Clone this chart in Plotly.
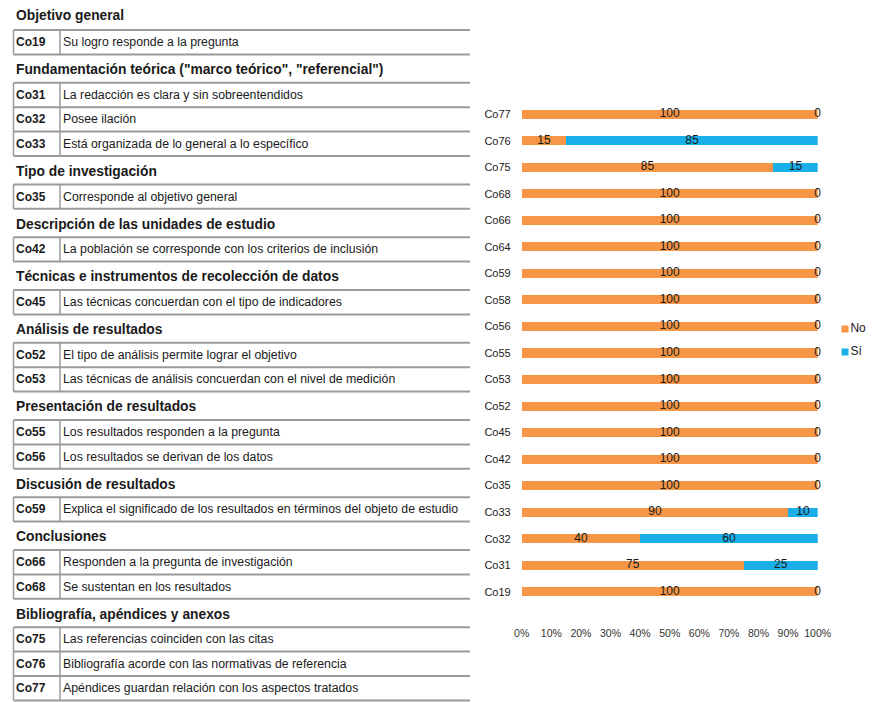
import plotly.graph_objects as go

# ---------------- data ----------------
categories = ["Co77", "Co76", "Co75", "Co68", "Co66", "Co64", "Co59", "Co58", "Co56",
              "Co55", "Co53", "Co52", "Co45", "Co42", "Co35", "Co33", "Co32", "Co31", "Co19"]
no_values = [100, 15, 85, 100, 100, 100, 100, 100, 100, 100, 100, 100, 100, 100, 100, 90, 40, 75, 100]
si_values = [0, 85, 15, 0, 0, 0, 0, 0, 0, 0, 0, 0, 0, 0, 0, 10, 60, 25, 0]
series_names = ["No", "Sí"]
x_tick_values = [0, 10, 20, 30, 40, 50, 60, 70, 80, 90, 100]
x_tick_labels = ["0%", "10%", "20%", "30%", "40%", "50%", "60%", "70%", "80%", "90%", "100%"]

section_titles = [
    "Objetivo general",
    'Fundamentación teórica ("marco teórico", "referencial")',
    "Tipo de investigación",
    "Descripción de las unidades de estudio",
    "Técnicas e instrumentos de recolección de datos",
    "Análisis de resultados",
    "Presentación de resultados",
    "Discusión de resultados",
    "Conclusiones",
    "Bibliografía, apéndices y anexos",
]
item_section = [0, 1, 1, 1, 2, 3, 4, 5, 5, 6, 6, 7, 8, 8, 9, 9, 9]
item_codes = ["Co19", "Co31", "Co32", "Co33", "Co35", "Co42", "Co45", "Co52", "Co53",
              "Co55", "Co56", "Co59", "Co66", "Co68", "Co75", "Co76", "Co77"]
item_texts = [
    "Su logro responde a la pregunta",
    "La redacción es clara y sin sobreentendidos",
    "Posee ilación",
    "Está organizada de lo general a lo específico",
    "Corresponde al objetivo general",
    "La población se corresponde con los criterios de inclusión",
    "Las técnicas concuerdan con el tipo de indicadores",
    "El tipo de análisis permite lograr el objetivo",
    "Las técnicas de análisis concuerdan con el nivel de medición",
    "Los resultados responden a la pregunta",
    "Los resultados se derivan de los datos",
    "Explica el significado de los resultados en términos del objeto de estudio",
    "Responden a la pregunta de investigación",
    "Se sustentan en los resultados",
    "Las referencias coinciden con las citas",
    "Bibliografía acorde con las normativas de referencia",
    "Apéndices guardan relación con los aspectos tratados",
]

# ---------------- styles ----------------
SW, SH = 875, 702          # browser window
OFF = 8                    # default page (body) margin
W, H = SW - OFF, SH - OFF  # figure size so it fits the window
FONT = "Liberation Sans, Arial, sans-serif"
ORANGE = "#F79646"
BLUE = "#1AAFE9"
LINE = "#9a9a9a"
TXT = "#1a1a1a"
colors = [ORANGE, BLUE]


def fx(px):  # window x pixel -> paper fraction
    return (px - OFF) / W


def fy(py):  # window y pixel -> paper fraction
    return 1 - (py - OFF) / H


fig = go.Figure()

# ---------------- stacked bar chart ----------------
for name, vals, col in zip(series_names, [no_values, si_values], colors):
    fig.add_trace(go.Bar(y=categories, x=vals, name=name, orientation="h",
                         marker=dict(color=col, line=dict(width=0)),
                         showlegend=False, hoverinfo="x+y+name",
                         xaxis="x", yaxis="y"))

no_mid = [n / 2 for n in no_values]
si_mid = [n + s / 2 for n, s in zip(no_values, si_values)]
label_font = dict(family=FONT, size=12, color=TXT)
fig.add_trace(go.Scatter(x=no_mid, y=categories, mode="text", text=[str(v) for v in no_values],
                         textfont=label_font, showlegend=False, hoverinfo="skip",
                         cliponaxis=False, xaxis="x", yaxis="y"))
fig.add_trace(go.Scatter(x=si_mid, y=categories, mode="text", text=[str(v) for v in si_values],
                         textfont=label_font, showlegend=False, hoverinfo="skip",
                         cliponaxis=False, xaxis="x", yaxis="y"))

# ---------------- legend (drawn on the pixel axis x2/y2) ----------------
LEG_X, LEG_Y0, LEG_DY = 845, 329, 23
for k, (name, col) in enumerate(zip(series_names, colors)):
    fig.add_trace(go.Scatter(x=[LEG_X], y=[LEG_Y0 + k * LEG_DY], mode="markers+text",
                             marker=dict(symbol="square", size=7, color=col),
                             text=[name], textposition="middle right",
                             textfont=dict(family=FONT, size=12, color=TXT),
                             showlegend=False, hoverinfo="skip", cliponaxis=False,
                             xaxis="x2", yaxis="y2"))

# ---------------- table (pixel axis x2/y2) ----------------
X_LEFT, X_DIV, X_RIGHT = 13.5, 60, 470
ROW_H, GAP = 24.4, 28.4
shapes, annotations = [], []


def add_text(x, y, text, size):
    annotations.append(dict(x=x, y=y, xref="x2", yref="y2", text=text, showarrow=False,
                            xanchor="left", yanchor="middle", borderpad=0,
                            font=dict(family=FONT, size=size, color=TXT)))


def hline(y):
    shapes.append(dict(type="line", xref="x2", yref="y2", x0=X_LEFT, x1=X_RIGHT, y0=y, y1=y,
                       line=dict(color=LINE, width=2)))


y = 30.0
for s, title in enumerate(section_titles):
    if s == 0:
        hy = y - 15
    else:
        hy = y + GAP / 2 + 1
        y += GAP
    add_text(15, hy, "<b>" + title + "</b>", 13.8)
    idx = [i for i, sec in enumerate(item_section) if sec == s]
    top = y
    for i in idx:
        hline(y)
        add_text(15, y + ROW_H / 2, "<b>" + item_codes[i] + "</b>", 12)
        add_text(62, y + ROW_H / 2, item_texts[i], 12.3)
        y += ROW_H
    hline(y)
    for xv in (X_LEFT, X_DIV):
        shapes.append(dict(type="line", xref="x2", yref="y2", x0=xv, x1=xv, y0=top, y1=y,
                           line=dict(color=LINE, width=1.5)))

n_cat = len(categories)
fig.update_layout(
    width=W, height=H,
    margin=dict(l=0, r=0, t=0, b=0, autoexpand=False),
    paper_bgcolor="white",
    plot_bgcolor="rgba(0,0,0,0)",
    barmode="stack",
    bargap=0.66,
    shapes=shapes,
    annotations=annotations,
    showlegend=False,
    xaxis=dict(domain=[fx(521.7), fx(817.7)], range=[0, 100], anchor="y",
               tickvals=x_tick_values, ticktext=x_tick_labels, tickangle=0,
               showgrid=False, zeroline=False, showline=False, ticks="",
               ticklabelstandoff=20, automargin=False,
               tickfont=dict(family=FONT, size=10.5, color="#333333"), fixedrange=True),
    yaxis=dict(domain=[fy(605), fy(101)], anchor="x", type="category",
               categoryorder="array", categoryarray=categories,
               range=[n_cat - 0.5, -0.5], showgrid=False, zeroline=False, showline=False,
               ticks="", ticklabelstandoff=10, automargin=False,
               tickfont=dict(family=FONT, size=11, color=TXT), fixedrange=True),
    xaxis2=dict(domain=[0, 1], range=[OFF, SW], anchor="y2", visible=False, fixedrange=True),
    yaxis2=dict(domain=[0, 1], range=[SH, OFF], anchor="x2", visible=False, fixedrange=True),
)

fig.write_html("out.html")
